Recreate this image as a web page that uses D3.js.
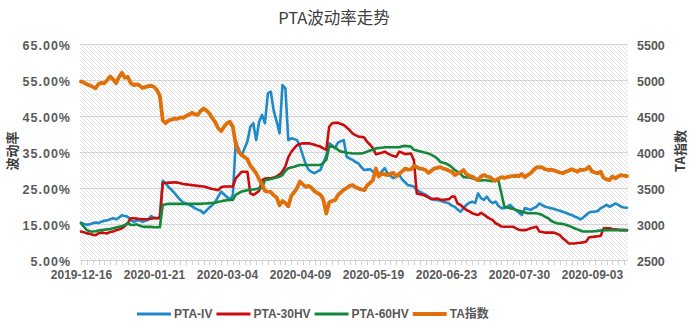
<!DOCTYPE html>
<html>
<head>
<meta charset="utf-8">
<script src="https://cdn.jsdelivr.net/npm/d3@7/dist/d3.min.js"></script>
<style>
  html, body { margin: 0; padding: 0; background: #fff; }
  svg { display: block; }
</style>
</head>
<body>
<svg id="chart" width="697" height="330"></svg>
<script>
// Trading days (Zhengzhou exchange calendar, holidays removed)
const tradeDates = [
  "2019-12-16","2019-12-17","2019-12-18","2019-12-19","2019-12-20","2019-12-23","2019-12-24","2019-12-25","2019-12-26","2019-12-27",
  "2019-12-30","2019-12-31","2020-01-02","2020-01-03","2020-01-06","2020-01-07","2020-01-08","2020-01-09","2020-01-10","2020-01-13",
  "2020-01-14","2020-01-15","2020-01-16","2020-01-17","2020-01-20","2020-01-21","2020-01-22","2020-01-23","2020-02-03","2020-02-04",
  "2020-02-05","2020-02-06","2020-02-07","2020-02-10","2020-02-11","2020-02-12","2020-02-13","2020-02-14","2020-02-17","2020-02-18",
  "2020-02-19","2020-02-20","2020-02-21","2020-02-24","2020-02-25","2020-02-26","2020-02-27","2020-02-28","2020-03-02","2020-03-03",
  "2020-03-04","2020-03-05","2020-03-06","2020-03-09","2020-03-10","2020-03-11","2020-03-12","2020-03-13","2020-03-16","2020-03-17",
  "2020-03-18","2020-03-19","2020-03-20","2020-03-23","2020-03-24","2020-03-25","2020-03-26","2020-03-27","2020-03-30","2020-03-31",
  "2020-04-01","2020-04-02","2020-04-03","2020-04-07","2020-04-08","2020-04-09","2020-04-10","2020-04-13","2020-04-14","2020-04-15",
  "2020-04-16","2020-04-17","2020-04-20","2020-04-21","2020-04-22","2020-04-23","2020-04-24","2020-04-27","2020-04-28","2020-04-29",
  "2020-04-30","2020-05-06","2020-05-07","2020-05-08","2020-05-11","2020-05-12","2020-05-13","2020-05-14","2020-05-15","2020-05-18",
  "2020-05-19","2020-05-20","2020-05-21","2020-05-22","2020-05-25","2020-05-26","2020-05-27","2020-05-28","2020-05-29","2020-06-01",
  "2020-06-02","2020-06-03","2020-06-04","2020-06-05","2020-06-08","2020-06-09","2020-06-10","2020-06-11","2020-06-12","2020-06-15",
  "2020-06-16","2020-06-17","2020-06-18","2020-06-19","2020-06-22","2020-06-23","2020-06-24","2020-06-29","2020-06-30","2020-07-01",
  "2020-07-02","2020-07-03","2020-07-06","2020-07-07","2020-07-08","2020-07-09","2020-07-10","2020-07-13","2020-07-14","2020-07-15",
  "2020-07-16","2020-07-17","2020-07-20","2020-07-21","2020-07-22","2020-07-23","2020-07-24","2020-07-27","2020-07-28","2020-07-29",
  "2020-07-30","2020-07-31","2020-08-03","2020-08-04","2020-08-05","2020-08-06","2020-08-07","2020-08-10","2020-08-11","2020-08-12",
  "2020-08-13","2020-08-14","2020-08-17","2020-08-18","2020-08-19","2020-08-20","2020-08-21","2020-08-24","2020-08-25","2020-08-26",
  "2020-08-27","2020-08-28","2020-08-31","2020-09-01","2020-09-02","2020-09-03","2020-09-04","2020-09-07","2020-09-08","2020-09-09",
  "2020-09-10","2020-09-11","2020-09-14","2020-09-15","2020-09-16","2020-09-17","2020-09-18","2020-09-21"
];

// PTA implied volatility, %
const ivSeries = [
  15.4,15.0,14.8,14.9,15.2,15.4,15.3,15.6,15.9,16.0,
  16.3,16.6,16.3,16.8,17.4,17.2,17.0,16.2,15.6,15.9,
  16.1,15.6,15.9,16.1,17.2,16.8,16.6,17.0,27.0,26.4,
  25.2,24.5,23.6,22.6,21.7,21.0,20.7,20.3,19.9,19.4,
  19.0,18.7,18.0,18.8,19.6,20.3,21.2,22.6,24.0,23.2,
  22.5,21.7,23.0,38.0,35.8,34.0,36.0,37.9,42.0,43.0,
  38.3,43.4,45.3,43.0,51.3,51.8,46.5,43.5,40.2,53.6,
  52.7,38.3,38.8,38.6,38.3,36.5,34.0,31.5,30.0,29.5,
  29.1,29.6,30.0,32.0,34.0,37.4,36.8,36.0,37.6,38.0,
  38.3,33.7,33.2,32.8,32.2,31.9,30.8,30.0,30.1,30.2,
  29.5,29.0,28.6,29.6,30.5,29.1,28.4,27.7,28.3,28.6,
  27.4,26.6,25.8,25.6,25.4,24.5,24.0,23.5,23.2,22.6,
  22.0,21.7,21.7,21.5,21.2,21.0,20.7,20.1,19.8,19.0,
  18.4,19.4,20.3,20.9,21.2,20.8,23.5,22.2,21.7,22.6,
  21.4,20.8,21.2,20.0,19.4,19.4,19.8,20.3,19.4,18.8,
  18.2,17.5,19.4,19.2,18.9,19.4,19.8,20.7,20.2,19.8,
  19.6,19.4,19.2,18.9,18.7,18.4,18.1,17.8,17.5,17.1,
  16.8,16.3,16.8,17.5,18.2,18.4,18.4,18.6,19.4,19.8,
  20.3,19.8,20.2,20.7,20.3,19.8,19.6,19.5
];

// PTA 30-day historical volatility, %
const hv30Series = [
  12.9,12.7,12.4,12.3,12.0,11.9,12.4,12.6,12.5,12.4,
  12.8,12.9,13.3,13.5,13.8,14.4,15.2,16.6,16.6,16.5,
  16.4,16.3,16.3,16.3,16.5,16.6,16.6,16.6,26.3,26.4,
  26.5,26.5,26.6,26.5,26.3,26.1,26.0,25.9,25.8,25.7,
  25.6,25.5,25.4,25.2,24.9,24.7,24.6,24.4,25.2,25.4,
  25.4,25.4,25.4,27.7,28.6,29.5,29.5,29.5,23.5,23.1,
  23.6,24.2,27.2,27.6,27.7,27.7,27.9,28.2,28.8,29.6,
  31.0,33.5,35.0,36.0,36.9,37.2,37.4,37.4,37.4,37.2,
  37.0,36.7,36.5,36.0,35.6,42.0,43.0,43.1,43.1,42.8,
  42.5,41.8,41.1,40.2,39.7,39.3,39.2,39.0,37.8,37.0,
  36.0,34.4,34.6,34.8,35.1,34.6,34.2,33.9,33.7,35.1,
  34.8,34.4,34.5,34.6,32.8,23.5,23.3,23.1,22.8,22.4,
  21.9,22.0,22.1,21.8,21.7,21.8,21.9,22.6,22.6,20.7,
  20.3,19.6,18.9,18.5,18.0,17.7,17.5,18.1,17.6,17.0,
  16.5,16.1,15.2,14.8,14.3,14.25,14.25,14.25,14.25,13.8,
  13.4,13.3,13.3,13.5,13.8,14.0,14.25,12.9,12.8,12.6,
  12.6,12.6,12.6,12.3,11.9,11.0,10.4,9.6,9.6,9.6,
  9.7,9.8,9.9,10.1,11.3,11.4,11.5,11.6,11.7,13.8,
  13.8,13.8,13.6,13.5,13.4,13.3,13.3,13.3
];

// PTA 60-day historical volatility, %
const hv60Series = [
  15.2,14.2,13.3,13.0,12.9,13.0,13.2,13.3,13.4,13.5,
  13.6,13.8,14.0,14.2,14.4,14.7,15.2,14.8,14.7,14.9,
  14.6,14.3,14.2,14.25,14.2,14.1,14.1,14.1,20.3,20.5,
  20.6,20.6,20.6,20.6,20.6,20.6,20.6,20.6,20.6,20.6,
  20.6,20.6,20.7,20.7,20.8,20.8,20.9,21.2,21.3,21.5,
  21.6,21.7,21.7,23.1,23.6,24.0,24.2,24.4,24.5,24.6,
  24.7,24.9,25.0,27.2,27.3,27.5,27.7,27.9,28.2,28.6,
  29.8,30.5,30.7,30.9,31.2,31.4,31.4,31.4,31.4,31.4,
  31.4,31.4,31.4,32.0,32.8,36.5,36.5,36.3,35.6,35.1,
  35.0,34.8,34.7,34.6,34.6,34.6,34.6,34.8,35.1,35.4,
  35.6,36.0,36.1,36.2,36.3,36.3,36.3,36.3,36.3,36.3,
  36.6,36.7,36.6,36.5,35.6,35.4,35.2,35.0,34.8,34.6,
  34.2,33.8,33.2,32.3,32.0,31.8,31.4,30.8,30.0,29.5,
  29.0,28.0,28.0,27.9,27.7,27.4,27.0,27.1,27.2,27.1,
  27.0,26.9,27.0,27.0,23.4,19.8,19.6,19.4,19.2,18.9,
  18.7,18.4,18.2,18.0,18.0,18.0,18.0,17.8,17.5,17.0,
  16.6,15.9,15.5,15.2,15.1,15.0,14.8,14.5,14.2,13.8,
  13.5,13.2,12.9,12.9,12.9,12.9,13.0,13.1,13.2,13.3,
  13.3,13.3,13.3,13.3,13.3,13.3,13.3,13.2
];

// TA futures index (right axis)
const taIndex = [
  4980,4965,4940,4925,4905,4885,4945,4960,4955,5000,
  5050,5010,4955,5040,5100,5030,5045,4960,4930,4940,
  4925,4890,4900,4915,4920,4905,4860,4780,4440,4400,
  4440,4450,4465,4460,4480,4475,4500,4520,4545,4525,
  4515,4570,4605,4575,4535,4470,4410,4330,4290,4350,
  4400,4420,4350,4110,4000,3960,3930,3900,3810,3760,
  3705,3620,3550,3460,3450,3445,3400,3370,3260,3320,
  3290,3245,3390,3440,3500,3590,3550,3515,3530,3500,
  3455,3430,3405,3340,3145,3300,3320,3330,3400,3440,
  3475,3500,3530,3540,3510,3495,3480,3470,3535,3570,
  3610,3770,3660,3700,3690,3680,3700,3710,3660,3700,
  3730,3770,3755,3760,3805,3790,3770,3765,3750,3710,
  3740,3770,3780,3790,3770,3760,3740,3725,3680,3700,
  3720,3750,3690,3670,3660,3630,3610,3660,3680,3660,
  3650,3620,3600,3630,3650,3640,3650,3660,3665,3670,
  3665,3695,3650,3680,3705,3750,3785,3790,3785,3760,
  3750,3755,3745,3730,3715,3705,3725,3740,3760,3745,
  3725,3755,3750,3760,3795,3730,3715,3705,3725,3640,
  3620,3610,3660,3635,3660,3680,3670,3665
];

const xTickLabels = ["2019-12-16","2020-01-21","2020-03-04","2020-04-09","2020-05-19","2020-06-23","2020-07-30","2020-09-03"];
const leftTicks = [5, 15, 25, 35, 45, 55, 65];
const rightTicks = [2500, 3000, 3500, 4000, 4500, 5000, 5500];

const seriesDefs = [
  { name: "PTA-IV",   values: ivSeries,   axis: "left",  color: "#1f8ac8", width: 2.6 },
  { name: "PTA-30HV", values: hv30Series, axis: "left",  color: "#c90d0d", width: 2.6 },
  { name: "PTA-60HV", values: hv60Series, axis: "left",  color: "#13883a", width: 2.6 },
  { name: "TA指数",   values: taIndex,    axis: "right", color: "#e0700a", width: 3.8 }
];

const svg = d3.select("#chart");
const plot = { left: 80, right: 628, top: 44, bottom: 260 };
const labelFont = "'Liberation Sans', Arial, sans-serif";
const cjkFont = "'Noto Sans CJK SC', 'Noto Sans', sans-serif";
const tickGrey = "#595959";

const x = d3.scalePoint().domain(tradeDates).range([81, 627]);
const yL = d3.scaleLinear().domain([5, 65]).range([plot.bottom, plot.top]);
const yR = d3.scaleLinear().domain([2500, 5500]).range([plot.bottom, plot.top]);

svg.append("rect").attr("width", 697).attr("height", 330).attr("fill", "#fff");

// light downward-diagonal hatch for the plot area
const defs = svg.append("defs");
const pat = defs.append("pattern")
  .attr("id", "hatch").attr("patternUnits", "userSpaceOnUse")
  .attr("width", 4).attr("height", 4);
pat.append("rect").attr("width", 4).attr("height", 4).attr("fill", "#fff");
pat.append("path").attr("d", "M0,0 L4,4 M-1,3 L1,5 M3,-1 L5,1")
  .attr("stroke", "#dcdcdc").attr("stroke-width", 0.9);

svg.append("rect")
  .attr("x", plot.left).attr("y", plot.top)
  .attr("width", plot.right - plot.left).attr("height", plot.bottom - plot.top)
  .attr("fill", "url(#hatch)");

// horizontal gridlines
svg.append("g").selectAll("line").data(leftTicks).join("line")
  .attr("x1", plot.left).attr("x2", plot.right)
  .attr("y1", d => Math.round(yL(d)) + 0.5).attr("y2", d => Math.round(yL(d)) + 0.5)
  .attr("stroke", "#d6d6d6").attr("stroke-width", 1);

// minor category tick marks under the baseline
const minorTicks = tradeDates.filter((d, i) => i % 2 === 0);
svg.append("g").selectAll("line").data(minorTicks).join("line")
  .attr("x1", d => Math.round(x(d)) + 0.5).attr("x2", d => Math.round(x(d)) + 0.5)
  .attr("y1", plot.bottom).attr("y2", plot.bottom + 5)
  .attr("stroke", "#d0d0d0").attr("stroke-width", 1);

// left axis
const gL = svg.append("g").attr("transform", `translate(${plot.left - 9},0)`)
  .call(d3.axisLeft(yL).tickValues(leftTicks).tickSize(0).tickPadding(0)
    .tickFormat(d => d.toFixed(2) + "%"));
gL.select(".domain").remove();
gL.selectAll("text")
  .attr("font-family", labelFont).attr("font-weight", "bold")
  .attr("font-size", "12.5px").attr("letter-spacing", "1px")
  .attr("fill", tickGrey).attr("dy", "0.42em");

// right axis
const gR = svg.append("g").attr("transform", `translate(${plot.right + 9},0)`)
  .call(d3.axisRight(yR).tickValues(rightTicks).tickSize(0).tickPadding(0)
    .tickFormat(d3.format("d")));
gR.select(".domain").remove();
gR.selectAll("text")
  .attr("font-family", labelFont).attr("font-weight", "bold")
  .attr("font-size", "12.5px").attr("fill", tickGrey).attr("dy", "0.42em");

// bottom category axis
const gX = svg.append("g").attr("transform", `translate(0,${plot.bottom})`)
  .call(d3.axisBottom(x).tickValues(xTickLabels).tickSize(0).tickPadding(10));
gX.select(".domain").attr("stroke", "#d0d0d0");
gX.selectAll("text")
  .attr("font-family", labelFont).attr("font-weight", "bold")
  .attr("font-size", "12px").attr("fill", tickGrey);

// series lines
const lineFor = scale => d3.line()
  .x((d, i) => x(tradeDates[i]))
  .y(d => scale(d));

svg.append("g").selectAll("path").data(seriesDefs).join("path")
  .attr("d", s => lineFor(s.axis === "left" ? yL : yR)(s.values))
  .attr("fill", "none")
  .attr("stroke", s => s.color)
  .attr("stroke-width", s => s.width)
  .attr("stroke-linejoin", "round")
  .attr("stroke-linecap", "round");

// title
svg.append("text")
  .attr("x", 334).attr("y", 24).attr("text-anchor", "middle")
  .attr("font-family", cjkFont).attr("font-size", "16.5px")
  .attr("fill", "#404040").text("PTA波动率走势");

// axis titles
svg.append("text")
  .attr("transform", "translate(17,151) rotate(-90)")
  .attr("text-anchor", "middle")
  .attr("font-family", cjkFont).attr("font-size", "13px").attr("font-weight", "bold")
  .attr("fill", "#404040").text("波动率");

svg.append("text")
  .attr("transform", "translate(685,151) rotate(-90)")
  .attr("text-anchor", "middle")
  .attr("font-family", cjkFont).attr("font-size", "13px").attr("font-weight", "bold")
  .attr("fill", "#404040").text("TA指数");

// legend
const legend = svg.append("g").attr("transform", "translate(137,314)");
let lx = 0;
seriesDefs.forEach(s => {
  legend.append("line")
    .attr("x1", lx).attr("x2", lx + 34).attr("y1", 0).attr("y2", 0)
    .attr("stroke", s.color).attr("stroke-width", s.axis === "right" ? 4.2 : 3);
  const t = legend.append("text")
    .attr("x", lx + 37).attr("y", 0).attr("dy", "0.36em")
    .attr("font-family", s.name.includes("指") ? `${labelFont.split(",")[0]}, ${cjkFont}` : labelFont)
    .attr("font-weight", "bold").attr("font-size", "12px")
    .attr("fill", tickGrey).text(s.name);
  lx += 37 + t.node().getComputedTextLength() + 4;
});
</script>
</body>
</html>
